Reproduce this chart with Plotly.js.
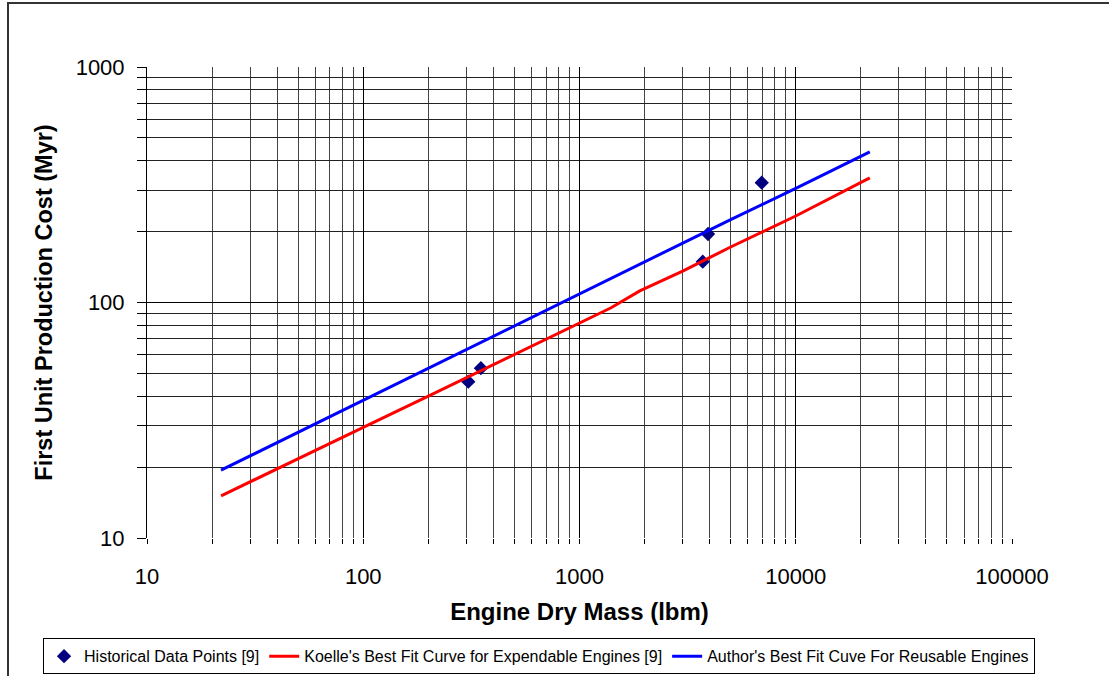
<!DOCTYPE html>
<html><head><meta charset="utf-8">
<script src="https://cdn.plot.ly/plotly-3.0.1.min.js"></script>
<style>
html,body{margin:0;padding:0;background:#fff;overflow:hidden;}
#frame{position:absolute;left:7px;top:2px;width:1130px;height:700px;border:2px solid #333;box-sizing:border-box;pointer-events:none;z-index:5;}
#chart{position:absolute;left:0;top:0;width:1109px;height:676px;}
</style></head>
<body>
<div id="chart"></div>
<div id="frame"></div>
<script>
// Historical data points
const histMass = [306, 350, 3715, 3930, 6960];
const histCost = [46.1, 52.6, 149, 195.4, 322.7];
// Koelle's best fit (expendable)
const koelleMass = [22, 50, 100, 200, 500, 1000, 1400, 1900, 3000, 5000, 10000, 22000];
const koelleCost = [15.1, 21.8, 29.5, 40, 60, 82, 95, 112, 136, 172, 233, 338];
// Author's best fit (reusable)
const authorMass = [22, 50, 100, 200, 500, 1000, 1200, 1900, 3000, 5000, 10000, 22000];
const authorCost = [19.4, 28.1, 38.5, 52.6, 79.5, 108, 118, 145, 178, 225, 305, 436];
// tick labels
const xTickVals = [10, 100, 1000, 10000, 100000];
const xTickText = ['10', '100', '1000', '10000', '100000'];
const yTickVals = [10, 100, 1000];
const yTickText = ['10', '100', '1000'];

const FONT = 'Arial, "Liberation Sans", sans-serif';

const traces = [
  {x: histMass, y: histCost, mode: 'markers', type: 'scatter',
   name: 'Historical Data Points [9]',
   marker: {symbol: 'diamond', size: 11, color: '#000080'}},
  {x: koelleMass, y: koelleCost, mode: 'lines', type: 'scatter',
   name: "Koelle's Best Fit Curve for Expendable Engines [9]",
   line: {color: '#ff0000', width: 3}},
  {x: authorMass, y: authorCost, mode: 'lines', type: 'scatter',
   name: "Author's Best Fit Cuve For Reusable Engines",
   line: {color: '#0000ff', width: 3}}
];

const minorX = [20,30,40,50,60,70,80,90,200,300,400,500,600,700,800,900,2000,3000,4000,5000,6000,7000,8000,9000,20000,30000,40000,50000,60000,70000,80000,90000];
const minorY = [20,30,40,50,60,70,80,90,200,300,400,500,600,700,800,900];

const layout = {
  width: 1109, height: 676,
  paper_bgcolor: 'rgba(0,0,0,0)', plot_bgcolor: '#fff',
  margin: {l: 147, r: 97, t: 67, b: 138, autoexpand: false},
  font: {family: FONT, color: '#000'},
  showlegend: true,
  legend: {orientation: 'h', xref: 'paper', yref: 'paper',
    x: -0.1202, xanchor: 'left', y: -0.2130, yanchor: 'top',
    bordercolor: '#000', borderwidth: 1, bgcolor: '#fff',
    itemwidth: 30, tracegroupgap: 0,
    font: {family: FONT, size: 16, color: '#000'}, traceorder: 'normal'},
  xaxis: {type: 'log', range: [1, 5], tickmode: 'array', tickvals: xTickVals, ticktext: xTickText,
    showgrid: true, gridcolor: '#000', gridwidth: 1,
    ticks: 'outside', ticklen: 5, tickcolor: '#000', ticklabelstandoff: 14,
    showline: false, zeroline: false,
    tickfont: {size: 22, family: FONT, color: '#000'},
    minor: {tickvals: minorX, showgrid: true, gridcolor: '#444', gridwidth: 1, ticks: 'outside', ticklen: 5, tickcolor: '#000'},
    title: {text: '<b>Engine Dry Mass (lbm)</b>', font: {size: 24, family: FONT, color: '#000'}, standoff: 14}},
  yaxis: {type: 'log', range: [1, 3], tickmode: 'array', tickvals: yTickVals, ticktext: yTickText,
    showgrid: true, gridcolor: '#000', gridwidth: 1,
    ticks: 'outside', ticklen: 9, tickcolor: '#000', ticklabelstandoff: 8,
    showline: true, linecolor: '#000', linewidth: 1, zeroline: false,
    tickfont: {size: 22, family: FONT, color: '#000'},
    minor: {tickvals: minorY, showgrid: true, gridcolor: '#222', gridwidth: 1, ticks: 'outside', ticklen: 9, tickcolor: '#000'},
    title: {text: '<b>First Unit Production Cost (Myr)</b>', font: {size: 23.5, family: FONT, color: '#000'}, standoff: 16}}
};

Plotly.newPlot('chart', traces, layout, {displayModeBar: false, staticPlot: true});
</script>
</body></html>
